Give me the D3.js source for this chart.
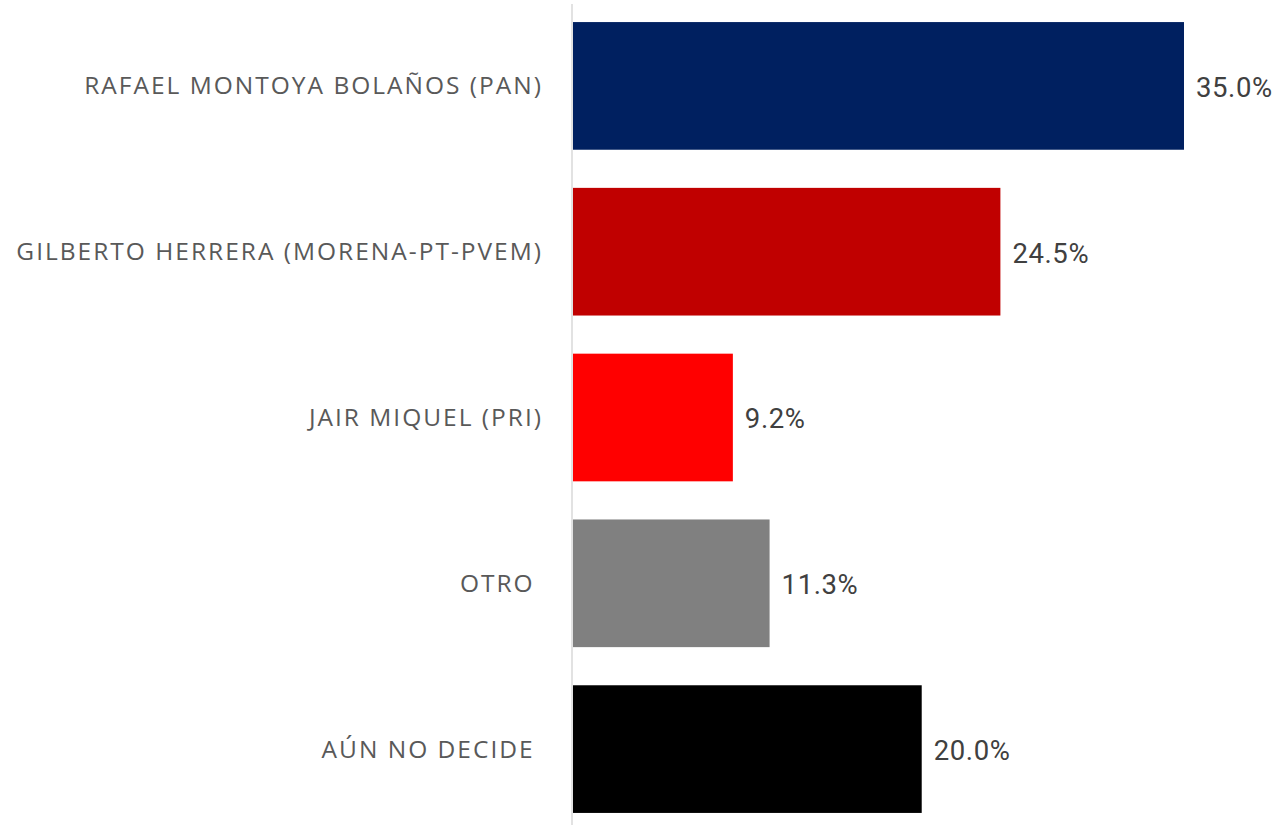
<!DOCTYPE html>
<html>
<head>
<meta charset="utf-8">
<script src="https://cdn.jsdelivr.net/npm/d3@7"></script>
<style>
  html, body { margin: 0; padding: 0; background: #fff; }
  svg { display: block; }
</style>
</head>
<body>
<div id="chart"></div>
<script>
const categories = [
  'RAFAEL MONTOYA BOLAÑOS (PAN)',
  'GILBERTO HERRERA (MORENA-PT-PVEM)',
  'JAIR MIQUEL (PRI)',
  'OTRO ',
  'AÚN NO DECIDE '
];
const values = [35.0, 24.5, 9.2, 11.3, 20.0];
const colors = ['#002060', '#C00000', '#FF0000', '#808080', '#000000'];

const W = 1281, H = 825;
const axisX = 572;

const svg = d3.select('#chart').append('svg')
  .attr('width', W).attr('height', H)
  .attr('viewBox', `0 0 ${W} ${H}`);

const x = d3.scaleLinear([0, 35], [axisX, 1184]);
const y = d3.scaleBand(categories, [3, 832]).paddingInner(0.23).paddingOuter(0.115);

// bars
svg.selectAll('rect.bar').data(categories).join('rect')
  .attr('class', 'bar')
  .attr('x', x(0) + 1)
  .attr('y', d => y(d))
  .attr('width', (d, i) => x(values[i]) - x(0) - 1)
  .attr('height', y.bandwidth())
  .attr('fill', (d, i) => colors[i]);

// category axis line
svg.append('line')
  .attr('x1', axisX).attr('x2', axisX)
  .attr('y1', 4).attr('y2', H)
  .attr('stroke', '#d9d9d9').attr('stroke-width', 1.5);

// category labels
svg.selectAll('text.cat').data(categories).join('text')
  .attr('class', 'cat')
  .attr('x', 543)
  .attr('y', d => y(d) + y.bandwidth() / 2)
  .attr('dy', '0.35em')
  .attr('text-anchor', 'end')
  .attr('font-family', "'Open Sans', sans-serif").attr('font-size', 24.5)
  .attr('letter-spacing', 2)
  .attr('fill', '#595959')
  .style('white-space', 'pre')
  .text(d => d);

// value labels
svg.selectAll('text.val').data(categories).join('text')
  .attr('class', 'val')
  .attr('x', (d, i) => x(values[i]) + 12)
  .attr('y', d => y(d) + y.bandwidth() / 2 + 1)
  .attr('dy', '0.36em')
  .attr('font-family', 'Roboto, sans-serif').attr('font-size', 27.5)
  .attr('letter-spacing', 0.6)
  .attr('fill', '#404040')
  .text((d, i) => values[i].toFixed(1) + '%');
</script>
</body>
</html>
